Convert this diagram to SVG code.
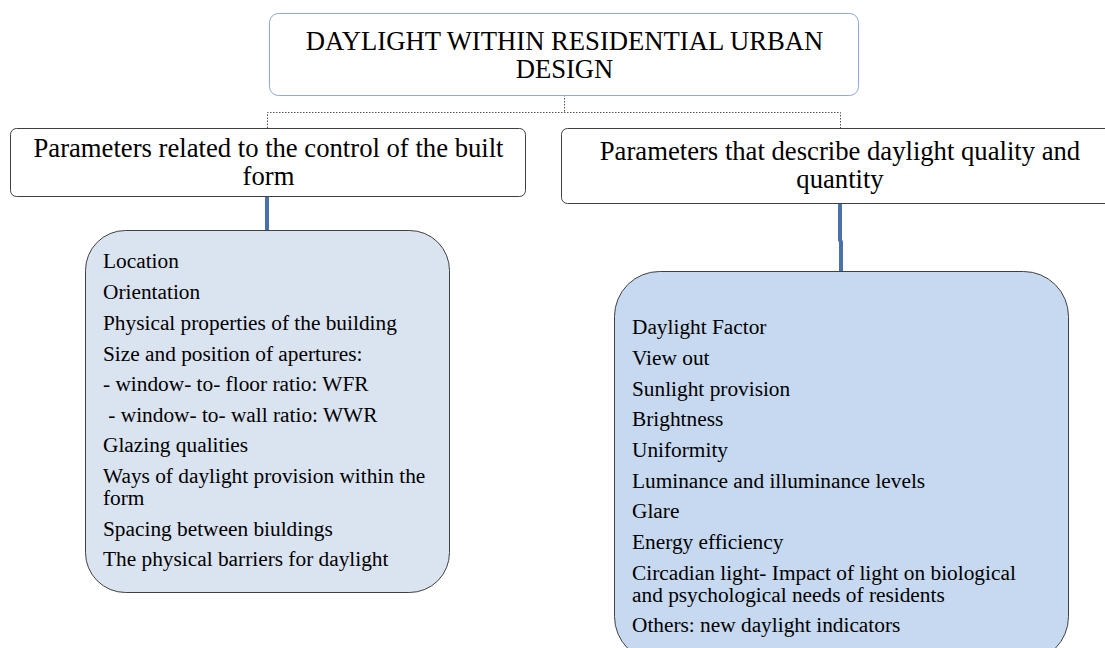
<svg xmlns="http://www.w3.org/2000/svg" width="1105" height="648" viewBox="0 0 1105 648" font-family="'Liberation Serif', 'Times New Roman', 'DejaVu Serif', serif">
<style>
.h{font-size:26.67px;text-anchor:middle}
.l{font-size:21.33px}
.hdr{fill:#fff;stroke:#404040;stroke-width:1}
.dot{fill:none;stroke:#555;stroke-width:1;stroke-dasharray:1.5 1.5}
.blue{fill:none;stroke:#4a72aa;stroke-width:4}
</style>
<rect width="1105" height="648" fill="#fff"/>
<g id="connectors">
<path class="dot" d="M564.5 95V112M267.5 128V112.5H840.5V128"/>
<path class="blue" d="M267 197V230"/>
<path class="blue" d="M840 203V240L841 242V271"/>
</g>
<g id="title">
<rect x="269.5" y="13.5" width="589" height="82" rx="9" fill="#fff" stroke="#8eaadb" stroke-width="1"/>
<text class="h" x="564.5" y="50">DAYLIGHT WITHIN RESIDENTIAL URBAN</text>
<text class="h" x="564.5" y="78">DESIGN</text>
</g>
<g id="built-form">
<rect class="hdr" x="10.5" y="128.5" width="515" height="68" rx="6"/>
<text class="h" x="268.5" y="157">Parameters related to the control of the built</text>
<text class="h" x="268.5" y="185">form</text>
</g>
<g id="quality">
<rect class="hdr" x="561.5" y="128.5" width="560" height="75" rx="6"/>
<text class="h" x="840" y="160">Parameters that describe daylight quality and</text>
<text class="h" x="840" y="188">quantity</text>
</g>
<g id="built-form-list">
<rect x="85.5" y="230.5" width="364" height="362" rx="40" fill="#dae3f0" stroke="#404040" stroke-width="1"/>
<text class="l" x="103" y="268">Location</text>
<text class="l" x="103" y="299">Orientation</text>
<text class="l" x="103" y="330">Physical properties of the building</text>
<text class="l" x="103" y="361">Size and position of apertures:</text>
<text class="l" x="103" y="391">- window- to- floor ratio: WFR</text>
<text class="l" x="103" y="422" xml:space="preserve"> - window- to- wall ratio: WWR</text>
<text class="l" x="103" y="452">Glazing qualities</text>
<text class="l" x="103" y="483">Ways of daylight provision within the</text>
<text class="l" x="103" y="505">form</text>
<text class="l" x="103" y="536">Spacing between biuldings</text>
<text class="l" x="103" y="566">The physical barriers for daylight</text>
</g>
<g id="quality-list">
<rect x="614.5" y="271.5" width="454" height="390" rx="45" fill="#c6d9f0" stroke="#404040" stroke-width="1"/>
<text class="l" x="632" y="334">Daylight Factor</text>
<text class="l" x="632" y="365">View out</text>
<text class="l" x="632" y="396">Sunlight provision</text>
<text class="l" x="632" y="426">Brightness</text>
<text class="l" x="632" y="457">Uniformity</text>
<text class="l" x="632" y="488">Luminance and illuminance levels</text>
<text class="l" x="632" y="518">Glare</text>
<text class="l" x="632" y="549">Energy efficiency</text>
<text class="l" x="632" y="580">Circadian light- Impact of light on biological</text>
<text class="l" x="632" y="602">and psychological needs of residents</text>
<text class="l" x="632" y="632">Others: new daylight indicators</text>
</g>
</svg>
